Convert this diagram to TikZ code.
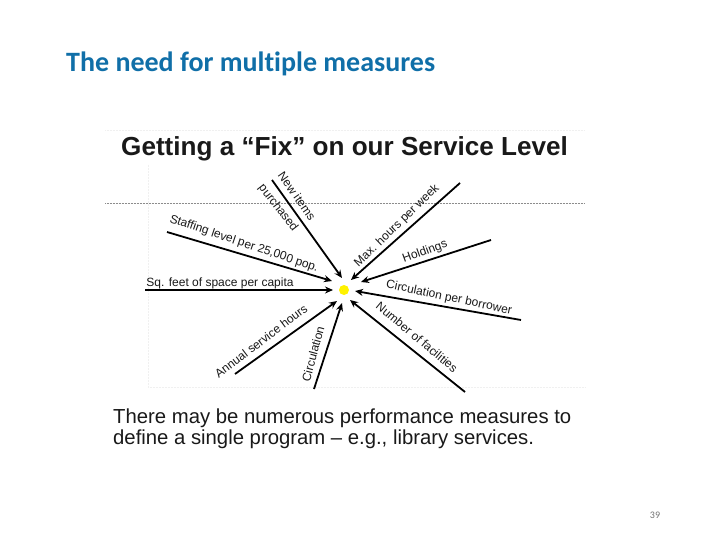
\documentclass[tikz,border=0pt]{standalone}
\usepackage{fontspec}
\setmainfont{Liberation Sans}
\newfontfamily\carl[Ligatures=NoCommon]{Carlito}
\definecolor{titleblue}{HTML}{106FA8}
\usetikzlibrary{arrows.meta}
\tikzset{
 spoke/.style={draw=black,line width=1.8pt,-{Stealth[length=8pt,width=7pt]}},
 lab/.style={font=\fontsize{12}{13}\selectfont,inner sep=0pt,text=black!90},
 guide/.style={draw=black!45,line width=0.5pt,densely dotted},
 faint/.style={draw=black!6,line width=0.5pt,densely dotted},
}
\begin{document}
\begin{tikzpicture}[x=1pt,y=-1pt]
\useasboundingbox (0,0) rectangle (720,540);
\fill[white] (0,0) rectangle (720,540);
\node[anchor=west,inner sep=0pt,text=titleblue,font=\carl\bfseries\fontsize{28}{32}\selectfont] (title) at (66,63.5) {The need for multiple measures};
\node[anchor=west,inner sep=0pt,font=\bfseries\fontsize{26.1}{30}\selectfont,text=black!90] (head) at (121,148.5) {Getting a “Fix” on our Service Level};
% guides
\coordinate (g1a) at (105,203); \coordinate (g1b) at (585,203);
\coordinate (g2a) at (148,387); \coordinate (g2b) at (585,387);
\coordinate (g3a) at (105,130); \coordinate (g3b) at (585,130);
\coordinate (g4a) at (148,165); \coordinate (g4b) at (148,387);
\draw[guide] (g1a) -- (g1b);
\draw[faint] (g2a) -- (g2b);
\draw[faint] (g3a) -- (g3b);
\draw[faint] (g4a) -- (g4b);
% centre
\node[circle,fill=yellow,minimum size=10pt,inner sep=0pt] (dot) at (344,290) {};
% ends
\coordinate (aS) at (272,180); \coordinate (aE) at (342,278);
\coordinate (bS) at (167,232); \coordinate (bE) at (332,281);
\coordinate (cS) at (145,290); \coordinate (cE) at (333,290);
\coordinate (dS) at (460,183); \coordinate (dE) at (351,280);
\coordinate (eS) at (491,240); \coordinate (eE) at (361,282);
\coordinate (fS) at (521,320); \coordinate (fE) at (355,291);
\coordinate (gS) at (465,392); \coordinate (gE) at (350,300);
\coordinate (hS) at (235,374); \coordinate (hE) at (337,301);
\coordinate (iS) at (314,389); \coordinate (iE) at (342,303);
\foreach \p in {a,b,c,d,e,f,g,h,i} \draw[spoke] (\p S) -- (\p E);
% labels
\node[lab,rotate=-55] (l1) at (297,196) {New items};
\node[lab,rotate=-52] (l2) at (278,208) {purchased};
\node[lab,rotate=-18.5] (l3) at (244,244) {Staffing level per 25,000 pop.};
\node[lab] (l4) at (220,283) {Sq. feet of space per capita};
\node[lab,rotate=44] (l5) at (397,226) {Max. hours per week};
\node[lab,rotate=20] (l6) at (425,252) {Holdings};
\node[lab,rotate=-12] (l7) at (449,298) {Circulation per borrower};
\node[lab,rotate=-40] (l8) at (417,337) {Number of facilities};
\node[lab,rotate=37] (l9) at (261,341) {Annual service hours};
\node[lab,rotate=75] (l10) at (313,354) {Circulation};
\node[anchor=west,inner sep=0pt,font=\fontsize{20.3}{21.5}\selectfont,text=black!90,align=left] (body) at (113,428.5) {There may be numerous performance measures to\\define a single program – e.g., library services.};
\node[inner sep=0pt,font=\carl\fontsize{10}{12}\selectfont,text=black!55] (page) at (655,515) {39};
\end{tikzpicture}
\end{document}
